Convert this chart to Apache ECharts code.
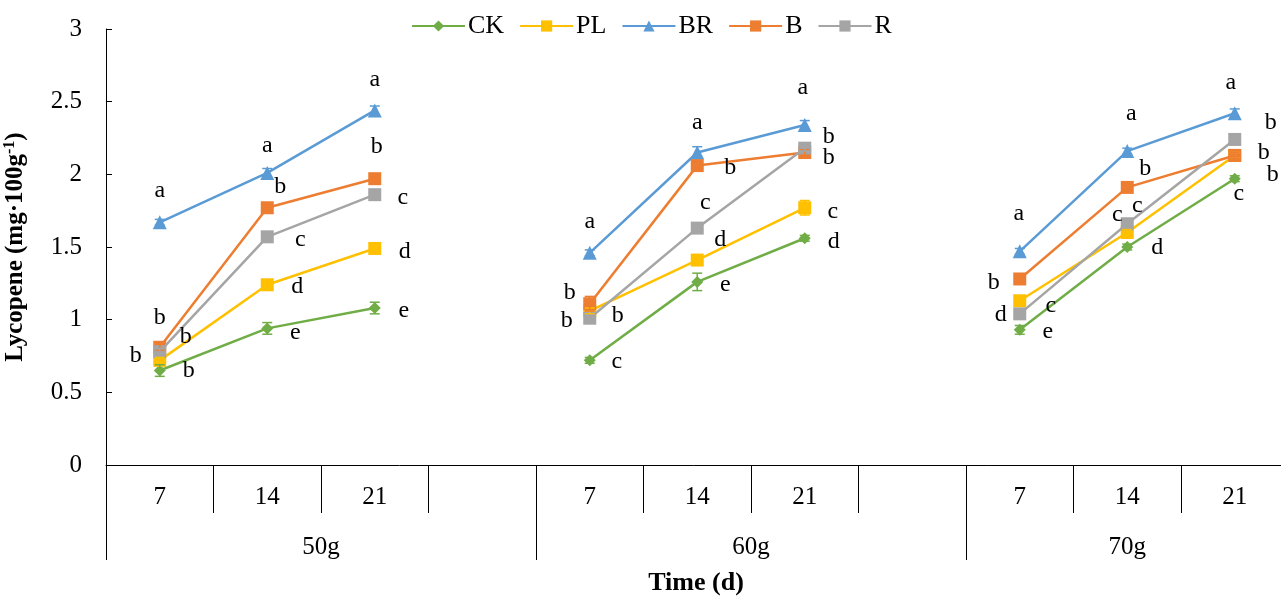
<!DOCTYPE html>
<html><head><meta charset="utf-8">
<script src="https://cdn.jsdelivr.net/npm/echarts@6/dist/echarts.min.js"></script>
<style>html,body{margin:0;padding:0;background:#fff}#c{width:1281px;height:598px}</style>
</head><body><div id="c"></div>
<script>
const categories = ['7','14','21','', '7','14','21','', '7','14','21'];
const groups = ['50g','60g','70g'];
const groupSizes = [4,4,3];
const seriesNames = ['CK','PL','BR','B','R'];
const ck = [0.65,0.94,1.08,null, 0.72,1.26,1.56,null, 0.93,1.50,1.97];
const pl = [0.72,1.24,1.49,null, 1.06,1.41,1.77,null, 1.13,1.60,2.13];
const br = [1.67,2.01,2.44,null, 1.46,2.15,2.34,null, 1.47,2.16,2.42];
const bb = [0.81,1.77,1.97,null, 1.11,2.06,2.15,null, 1.28,1.91,2.13];
const rr = [0.78,1.57,1.86,null, 1.01,1.63,2.18,null, 1.04,1.66,2.24];
const ckErr = [0.04,0.04,0.04,null, 0.02,0.06,0.02,null, 0.03,0.02,0.02];
const plErr = [0.02,0.02,0.02,null, 0.02,0.02,0.05,null, 0.02,0.02,0.02];
const brErr = [0.02,0.03,0.03,null, 0.02,0.04,0.03,null, 0.02,0.02,0.03];
const bErr  = [0.02,0.02,0.02,null, 0.05,0.02,0.02,null, 0.02,0.02,0.02];
const rErr  = [0.02,0.02,0.02,null, 0.02,0.02,0.02,null, 0.02,0.02,0.02];
const ckLetters = ['b','e','e',null,'c','e','d',null,'e','d','c'];
const plLetters = ['b','d','d',null,'b','d','c',null,'c','c','b'];
const brLetters = ['a','a','a',null,'a','a','a',null,'a','a','a'];
const bLetters  = ['b','b','b',null,'b','b','b',null,'b','b','b'];
const rLetters  = ['b','c','c',null,'b','c','b',null,'d','c','b'];
// letter placement (pixel offsets from the point)
const ckLetterPos = [[29,0],[28,4],[29,3],null,[27,1],[28,3],[29,3],null,[28,2],[30,1],[4,15]];
const plLetterPos = [[-24,-5],[30,2],[30,3],null,[28,5],[23,-20],[28,4],null,[31,5],[-10,-18],[38,19]];
const brLetterPos = [[0,-32],[0,-27],[0,-31],null,[0,-31],[0,-30],[-2,-37],null,[-1,-38],[4,-37],[-4,-31]];
const bLetterPos  = [[0,-30],[13,-21],[2,-32],null,[-20,-11],[33,2],[24,5],null,[-26,4],[18,-19],[29,-3]];
const rLetterPos  = [[26,-15],[33,3],[28,3],null,[-23,2],[8,-25],[24,-11],null,[-19,1],[10,-18],[36,-17]];

const colors = ['#70AD47','#FFC000','#5B9BD5','#ED7D31','#A5A5A5'];
const symbols = ['diamond','rect','triangle','rect','rect'];
const symSizes = [12,13,14,13,13];
const values = [ck,pl,br,bb,rr];
const errs = [ckErr,plErr,brErr,bErr,rErr];
const letters = [ckLetters,plLetters,brLetters,bLetters,rLetters];
const letterPos = [ckLetterPos,plLetterPos,brLetterPos,bLetterPos,rLetterPos];
const FONT = '"Liberation Serif","Times New Roman",serif';

// group boundaries / centers (in category units) derived from group sizes
const groupBounds = [0];
groupSizes.forEach(s => groupBounds.push(groupBounds[groupBounds.length - 1] + s));
const groupCenters = groups.map((g, i) => (groupBounds[i] + groupBounds[i + 1]) / 2);

const chart = echarts.init(document.getElementById('c'));
const series = [];
values.forEach((vals, k) => {
  series.push({
    name: seriesNames[k], type: 'line', data: vals, connectNulls: false,
    symbol: symbols[k], symbolSize: symSizes[k], showAllSymbol: true,
    itemStyle: {color: colors[k]}, lineStyle: {color: colors[k], width: 2.5},
    z: 3 + k, animation: false
  });
});
values.forEach((vals, k) => {
  const d = [];
  vals.forEach((v, i) => { if (v != null && errs[k][i] != null) d.push([i, v, errs[k][i]]); });
  series.push({
    type: 'custom', data: d, z: 10 + k, animation: false, silent: true,
    renderItem: function (params, api) {
      const x = api.value(0), v = api.value(1), e = api.value(2);
      const p1 = api.coord([x, v + e]), p2 = api.coord([x, v - e]);
      const c = colors[k], w = 5;
      return {type: 'group', children: [
        {type: 'line', shape: {x1: p1[0], y1: p1[1], x2: p2[0], y2: p2[1]}, style: {stroke: c, lineWidth: 1.5}},
        {type: 'line', shape: {x1: p1[0]-w, y1: p1[1], x2: p1[0]+w, y2: p1[1]}, style: {stroke: c, lineWidth: 1.5}},
        {type: 'line', shape: {x1: p2[0]-w, y1: p2[1], x2: p2[0]+w, y2: p2[1]}, style: {stroke: c, lineWidth: 1.5}}
      ]};
    }
  });
});
values.forEach((vals, k) => {
  const d = [];
  vals.forEach((v, i) => { if (v != null && letters[k][i]) d.push([i, v, letters[k][i], letterPos[k][i][0], letterPos[k][i][1]]); });
  series.push({
    type: 'custom', data: d, z: 20, animation: false, silent: true,
    renderItem: function (params, api) {
      const p = api.coord([api.value(0), api.value(1)]);
      return {type: 'text', x: p[0] + api.value(3), y: p[1] + api.value(4),
        style: {text: d[params.dataIndex][2], fontFamily: FONT, fontSize: 24, fill: '#000', align: 'center', verticalAlign: 'middle'}};
    }
  });
});

chart.setOption({
  animation: false,
  grid: {left: 106, top: 29, width: 1182.5, height: 436, outerBoundsMode: 'none', containLabel: false},
  legend: {
    data: seriesNames, left: 406, top: 8, itemWidth: 53, itemHeight: 14, itemGap: 15,
    textStyle: {fontFamily: FONT, fontSize: 26, color: '#000', padding: [0,0,0,-2]}
  },
  xAxis: [
    {type: 'category', data: categories, position: 'bottom',
     axisLine: {lineStyle: {color: '#000', width: 1}},
     axisTick: {show: true, length: 48, interval: 0, lineStyle: {color: '#000'}},
     axisLabel: {interval: 0, margin: 20, fontFamily: FONT, fontSize: 25, color: '#000'}},
    {type: 'value', min: 0, max: categories.length, position: 'bottom',
     axisLine: {show: false}, splitLine: {show: false},
     axisTick: {show: true, length: 95, customValues: groupBounds, lineStyle: {color: '#000'}},
     axisLabel: {customValues: groupCenters, margin: 70, fontFamily: FONT, fontSize: 25, color: '#000',
       formatter: function (v) { const i = groupCenters.indexOf(v); return i >= 0 ? groups[i] : ''; }}}
  ],
  yAxis: {
    type: 'value', min: 0, max: 3, interval: 0.5,
    axisLine: {show: true, lineStyle: {color: '#000'}},
    axisTick: {show: true, inside: true, length: 6, lineStyle: {color: '#000'}},
    splitLine: {show: false},
    axisLabel: {margin: 24, fontFamily: FONT, fontSize: 25, color: '#000'},
    name: '{a|Lycopene (mg·100g}{s|-1}{a|)}', nameLocation: 'middle', nameGap: 76, nameRotate: 90,
    nameTextStyle: {fontFamily: FONT, fontWeight: 'bold', fontSize: 25, color: '#000',
      rich: {a: {fontFamily: FONT, fontWeight: 'bold', fontSize: 25, color: '#000', lineHeight: 28},
             s: {fontFamily: FONT, fontWeight: 'bold', fontSize: 16, color: '#000', verticalAlign: 'top', lineHeight: 28}}}
  },
  graphic: [{type: 'text', x: 696, y: 583,
    style: {text: 'Time (d)', fontFamily: FONT, fontWeight: 'bold', fontSize: 26, fill: '#000', align: 'center', verticalAlign: 'middle'}}],
  series: series
});
</script></body></html>
